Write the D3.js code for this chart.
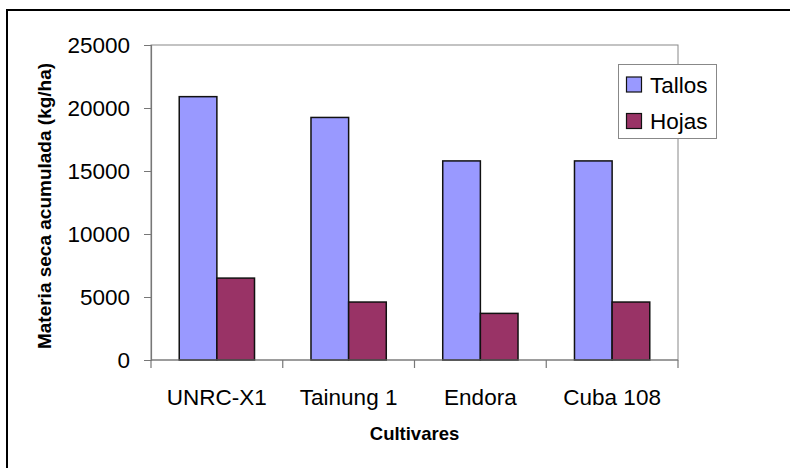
<!DOCTYPE html>
<html>
<head>
<meta charset="utf-8">
<script src="https://cdn.jsdelivr.net/npm/d3@7"></script>
<style>
  html, body { margin: 0; padding: 0; background: #fff; }
  svg { display: block; }
  text { font-family: Arial, "Liberation Sans", sans-serif; fill: #000; }
</style>
</head>
<body>
<svg id="chart" width="790" height="468"></svg>
<script>
const categories = ["UNRC-X1", "Tainung 1", "Endora", "Cuba 108"];
const seriesNames = ["Tallos", "Hojas"];
const tallos = [20900, 19250, 15800, 15800];
const hojas = [6500, 4600, 3700, 4600];
const yTicks = [0, 5000, 10000, 15000, 20000, 25000];
const colors = ["#9999FF", "#993366"];

const svg = d3.select("#chart");
const plot = { left: 151, top: 45, right: 678, bottom: 360 };

// outer frame (right & bottom lie beyond the window)
svg.append("rect")
  .attr("x", 7).attr("y", 10).attr("width", 800).attr("height", 480)
  .attr("fill", "#fff").attr("stroke", "#000").attr("stroke-width", 2);

const x = d3.scaleBand().domain(categories).range([plot.left, plot.right]).paddingInner(0).paddingOuter(0);
const y = d3.scaleLinear().domain([0, 25000]).range([plot.bottom, plot.top]);

// plot area border
svg.append("rect")
  .attr("x", plot.left).attr("y", plot.top)
  .attr("width", plot.right - plot.left).attr("height", plot.bottom - plot.top)
  .attr("fill", "none").attr("stroke", "#888").attr("stroke-width", 1);

const data = categories.map((c, i) => ({ cat: c, vals: [tallos[i], hojas[i]] }));
const bw = x.bandwidth() / 3.5;
const inner = d3.scaleBand().domain(seriesNames).range([0, 2 * bw]);

const g = svg.append("g");
data.forEach(d => {
  const x0 = x(d.cat) + (x.bandwidth() - 2 * bw) / 2;
  seriesNames.forEach((s, j) => {
    g.append("rect")
      .attr("x", x0 + inner(s))
      .attr("y", y(d.vals[j]))
      .attr("width", inner.bandwidth())
      .attr("height", y(0) - y(d.vals[j]))
      .attr("fill", colors[j])
      .attr("stroke", "#111").attr("stroke-width", 1.5);
  });
});

// y axis
const yAxis = svg.append("g").attr("transform", `translate(${plot.left},0)`)
  .call(d3.axisLeft(y).tickValues(yTicks).tickSize(7).tickPadding(14).tickFormat(d3.format("d")));
yAxis.select(".domain").attr("stroke", "#777").attr("stroke-width", 1.2);
yAxis.selectAll(".tick line").attr("stroke", "#777");
yAxis.selectAll("text").style("font-size", "22.5px").attr("fill", "#000")
  .style("font-family", "Arial, 'Liberation Sans', sans-serif");

// x axis
const xTickPos = categories.map(c => x(c)).concat([plot.right]);
svg.append("line")
  .attr("x1", plot.left).attr("x2", plot.right)
  .attr("y1", plot.bottom).attr("y2", plot.bottom)
  .attr("stroke", "#777").attr("stroke-width", 1.2);
svg.selectAll(".xtick").data(xTickPos).enter().append("line")
  .attr("x1", d => d).attr("x2", d => d)
  .attr("y1", plot.bottom).attr("y2", plot.bottom + 8)
  .attr("stroke", "#777").attr("stroke-width", 1.2);
svg.selectAll(".xlabel").data(categories).enter().append("text")
  .attr("x", d => x(d) + x.bandwidth() / 2)
  .attr("y", 405)
  .attr("text-anchor", "middle")
  .style("font-size", "22.5px")
  .text(d => d);

// axis titles
svg.append("text")
  .attr("x", plot.left + (plot.right - plot.left) / 2)
  .attr("y", 440)
  .attr("text-anchor", "middle")
  .style("font-size", "18.5px").style("font-weight", "bold")
  .text("Cultivares");
svg.append("text")
  .attr("transform", `translate(51,206) rotate(-90)`)
  .attr("text-anchor", "middle")
  .style("font-size", "19px").style("font-weight", "bold")
  .text("Materia seca acumulada (kg/ha)");

// legend
const leg = svg.append("g");
leg.append("rect")
  .attr("x", 618.5).attr("y", 64.5).attr("width", 98).attr("height", 74)
  .attr("fill", "#fff").attr("stroke", "#888").attr("stroke-width", 1);
seriesNames.forEach((s, j) => {
  const baseY = 92.5 + j * 36.5;
  leg.append("rect")
    .attr("x", 626.5).attr("y", baseY - 15.5).attr("width", 15).attr("height", 15)
    .attr("fill", colors[j]).attr("stroke", "#111").attr("stroke-width", 1.2);
  leg.append("text")
    .attr("x", 650).attr("y", baseY)
    .style("font-size", "22.5px")
    .text(s);
});
</script>
</body>
</html>
